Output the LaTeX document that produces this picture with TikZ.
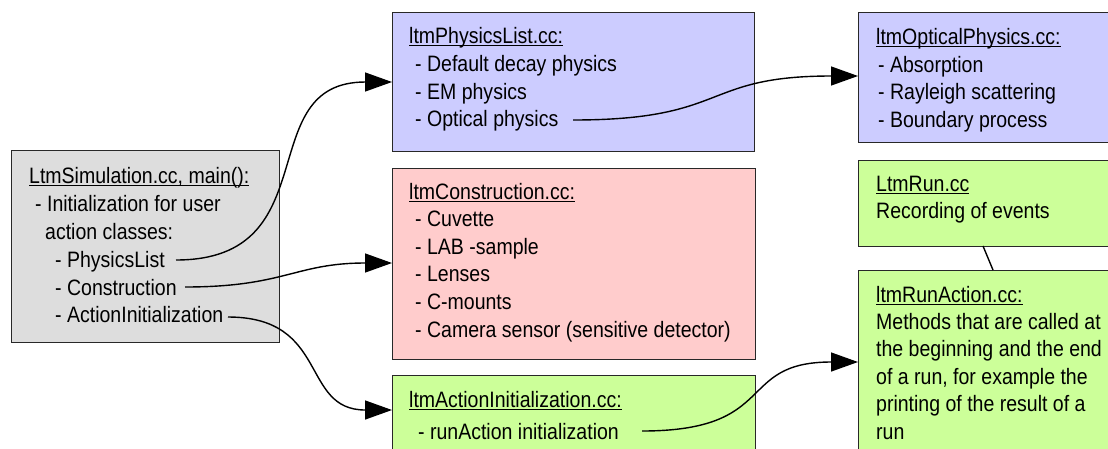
\documentclass[tikz,border=0pt]{standalone}
\usepackage{fontspec}
\setmainfont{Liberation Sans}[FakeStretch=0.875]
\usetikzlibrary{arrows.meta}
\definecolor{boxgray}{RGB}{221,221,221}
\definecolor{boxblue}{RGB}{204,204,255}
\definecolor{boxred}{RGB}{255,204,204}
\definecolor{boxgreen}{RGB}{204,255,153}
\definecolor{edge}{RGB}{40,40,40}
% underline at a fixed depth below the baseline
\newcommand\ultitle[1]{\setbox0\hbox{#1}\rlap{\rule[-3pt]{\wd0}{1.1pt}}\box0}
\tikzset{
  box/.style={draw=edge, line width=1.4pt, anchor=north west, inner sep=0pt},
  txt/.style={anchor=base west, inner sep=0pt, font=\fontsize{22.3}{27.8}\selectfont},
  link/.style={line width=1.4pt, -{Triangle[length=27pt,width=19pt]}},
  plain/.style={line width=1.4pt},
}
\begin{document}
\begin{tikzpicture}[x=1pt,y=-1pt]
\useasboundingbox (0,0) rectangle (1108,448);
\clip (0,0) rectangle (1108,448);
\fill[white] (0,0) rectangle (1108,448);

% main program box
\node[box, fill=boxgray, minimum width=268pt, minimum height=192pt] (main) at (11,150) {};
\node[txt] (m0) at (29,183) {\ultitle{LtmSimulation.cc, main():}};
\node[txt] (m1) at (35,211) {- Initialization for user};
\node[txt] (m2) at (45,239) {action classes:};
\node[txt] (m3) at (55,267) {- PhysicsList};
\node[txt] (m4) at (55,295) {- Construction};
\node[txt] (m5) at (55,322) {- ActionInitialization};

% physics list box
\node[box, fill=boxblue, minimum width=362pt, minimum height=139pt] (phys) at (392,12) {};
\node[txt] (p0) at (409,43) {\ultitle{ltmPhysicsList.cc:}};
\node[txt] (p1) at (415,71) {- Default decay physics};
\node[txt] (p2) at (415,99) {- EM physics};
\node[txt] (p3) at (415,126) {- Optical physics};

% construction box
\node[box, fill=boxred, minimum width=363pt, minimum height=191pt] (cons) at (392,168) {};
\node[txt] (c0) at (409,199) {\ultitle{ltmConstruction.cc:}};
\node[txt] (c1) at (415,226.6) {- Cuvette};
\node[txt] (c2) at (415,254.2) {- LAB -sample};
\node[txt] (c3) at (415,281.8) {- Lenses};
\node[txt] (c4) at (415,309.4) {- C-mounts};
\node[txt] (c5) at (415,337) {- Camera sensor (sensitive detector)};

% action initialization box
\node[box, fill=boxgreen, minimum width=363pt, minimum height=100pt] (act) at (392,375) {};
\node[txt] (a0) at (409,407) {\ultitle{ltmActionInitialization.cc:}};
\node[txt] (a1) at (418,439) {- runAction initialization};

% optical physics box
\node[box, fill=boxblue, minimum width=280pt, minimum height=130pt] (opt) at (858,12) {};
\node[txt] (o0) at (876,44) {\ultitle{ltmOpticalPhysics.cc:}};
\node[txt] (o1) at (878,72) {- Absorption};
\node[txt] (o2) at (878,99.5) {- Rayleigh scattering};
\node[txt] (o3) at (878,127) {- Boundary process};

% run box
\node[box, fill=boxgreen, minimum width=280pt, minimum height=86pt] (run) at (858,160) {};
\node[txt] (r0) at (876,191) {\ultitle{LtmRun.cc}};
\node[txt] (r1) at (876,218) {Recording of events};

% run action box
\node[box, fill=boxgreen, minimum width=280pt, minimum height=200pt] (ra) at (858,270) {};
\node[txt] (ra0) at (876,302) {\ultitle{ltmRunAction.cc:}};
\node[txt] (ra1) at (876,329.4) {Methods that are called at};
\node[txt] (ra2) at (876,356.8) {the beginning and the end};
\node[txt] (ra3) at (876,384.2) {of a run, for example the};
\node[txt] (ra4) at (876,411.6) {printing of the result of a};
\node[txt] (ra5) at (876,439) {run};

% connector end points
\coordinate (sPhys) at (176,260);
\coordinate (sCons) at (185,287);
\coordinate (sAct)  at (228,317);
\coordinate (sOpt)  at (573,120);
\coordinate (sRA)   at (642,431);
\coordinate (tPhys) at (phys.west |- 0,82);
\coordinate (tCons) at (cons.west |- 0,263);
\coordinate (tAct)  at (act.west |- 0,410);
\coordinate (tOpt)  at (opt.west |- 0,76);
\coordinate (tRA)   at (ra.west |- 0,362);
\coordinate (runLow) at (983,246);
\coordinate (raTop)  at (993,270);

\draw[link] (sPhys) .. controls (330,260) and (250,82) .. (tPhys);
\draw[link] (sCons) .. controls (285,287) and (295,263) .. (tCons);
\draw[link] (sAct)  .. controls (330,317) and (300,410) .. (tAct);
\draw[link] (sOpt)  .. controls (730,120) and (700,76) .. (tOpt);
\draw[link] (sRA)   .. controls (780,431) and (735,362) .. (tRA);
\draw[plain] (runLow) -- (raTop);
\end{tikzpicture}
\end{document}
